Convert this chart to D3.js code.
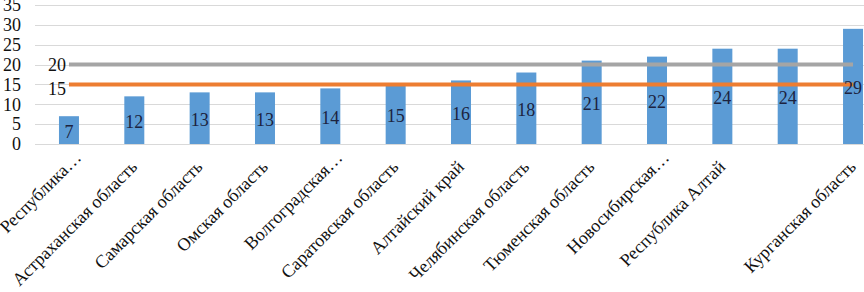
<!DOCTYPE html>
<html>
<head>
<meta charset="utf-8">
<script src="https://cdn.jsdelivr.net/npm/d3@7"></script>
<style>
  body { margin: 0; background: #fff; }
  svg text { font-family: "Liberation Serif", "Times New Roman", Times, serif; }
</style>
</head>
<body>
<div id="chart"></div>
<script>
// regions (12th label is empty in the source chart)
const categories = ["Республика…", "Астраханская область", "Самарская область", "Омская область",
    "Волгоградская…", "Саратовская область", "Алтайский край", "Челябинская область",
    "Тюменская область", "Новосибирская…", "Республика Алтай", "", "Курганская область"];
const values = [7, 12, 13, 13, 14, 15, 16, 18, 21, 22, 24, 24, 29];
const grayLine = [20, 20, 20, 20, 20, 20, 20, 20, 20, 20, 20, 20, 20];
const orangeLine = [15, 15, 15, 15, 15, 15, 15, 15, 15, 15, 15, 15, 15];
const yTicks = [0, 5, 10, 15, 20, 25, 30, 35];

const svgWidth = 864;
const svgHeight = 292;
const serif = "Liberation Serif";

const svg = d3.select("#chart")
    .append("svg")
    .attr("width", svgWidth)
    .attr("height", svgHeight)
    .style("font-family", serif);

// scales
const xScale = d3.scaleBand()
    .domain(d3.range(categories.length))
    .range([36.3, 885.7])
    .paddingInner(0.694)
    .paddingOuter(0.347);

const yScale = d3.scaleLinear()
    .domain([0, 35])
    .range([144, 5]);

const cx = i => xScale(i) + xScale.bandwidth() / 2;

// gridlines
svg.append("g")
    .selectAll("line")
    .data(yTicks)
    .enter().append("line")
    .attr("x1", 35)
    .attr("x2", svgWidth)
    .attr("y1", d => Math.round(yScale(d)) + 0.5)
    .attr("y2", d => Math.round(yScale(d)) + 0.5)
    .attr("stroke", "#d9d9d9")
    .attr("stroke-width", 1);

// y axis labels
const yAxis = svg.append("g")
    .attr("transform", "translate(21,0)")
    .call(d3.axisLeft(yScale).tickValues(yTicks).tickSize(0).tickPadding(0));
yAxis.attr("font-family", serif);
yAxis.select(".domain").remove();
yAxis.selectAll("text")
    .attr("font-size", 18)
    .attr("fill", "#111");

// bars
svg.selectAll(".bar")
    .data(values)
    .enter().append("rect")
    .attr("class", "bar")
    .attr("x", (d, i) => xScale(i))
    .attr("y", d => yScale(d))
    .attr("width", xScale.bandwidth())
    .attr("height", d => yScale(0) - yScale(d))
    .attr("fill", "#5b9bd5");

// reference lines
const line = d3.line()
    .x((d, i) => cx(i))
    .y(d => yScale(d));

svg.append("path")
    .datum(grayLine)
    .attr("d", line)
    .attr("fill", "none")
    .attr("stroke", "#a5a5a5")
    .attr("stroke-width", 4);

svg.append("path")
    .datum(orangeLine)
    .attr("d", line)
    .attr("fill", "none")
    .attr("stroke", "#ed7d31")
    .attr("stroke-width", 4);

// line labels
svg.append("text")
    .attr("x", cx(0) - 3)
    .attr("y", yScale(grayLine[0]) + 6)
    .attr("text-anchor", "end")
    .attr("font-size", 18)
    .attr("fill", "#111")
    .text(grayLine[0]);

svg.append("text")
    .attr("x", cx(0) - 3)
    .attr("y", yScale(orangeLine[0]) + 11)
    .attr("text-anchor", "end")
    .attr("font-size", 18)
    .attr("fill", "#111")
    .text(orangeLine[0]);

// value labels
svg.selectAll(".val")
    .data(values)
    .enter().append("text")
    .attr("class", "val")
    .attr("x", (d, i) => cx(i))
    .attr("y", d => (yScale(d) + yScale(0)) / 2 + 8)
    .attr("text-anchor", "middle")
    .attr("font-size", 18)
    .attr("fill", "#1c2340")
    .text(d => d);

// category labels (truncated ones sit a bit further out)
svg.selectAll(".cat")
    .data(categories)
    .enter().append("text")
    .attr("class", "cat")
    .attr("transform", (d, i) => `translate(${cx(i) + 4},168) rotate(-45)`)
    .attr("dx", d => d.endsWith("…") ? 13 : 0)
    .attr("text-anchor", "end")
    .attr("font-size", 18)
    .attr("fill", "#111")
    .text(d => d);
</script>
</body>
</html>
